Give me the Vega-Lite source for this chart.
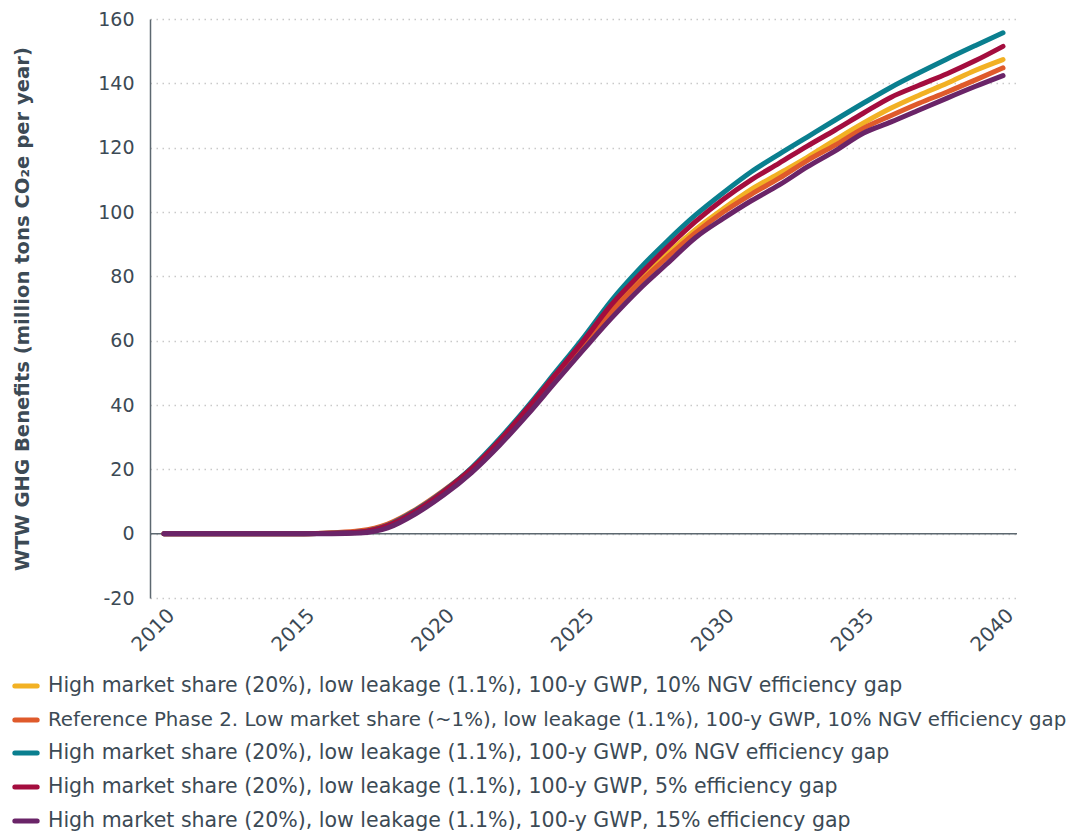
{
  "$schema": "https://vega.github.io/schema/vega-lite/v6.json",
  "width": 867,
  "height": 579,
  "autosize": "none",
  "padding": {"left": 150, "top": 19, "right": 51, "bottom": 235},
  "background": "white",
  "config": {
    "font": "DejaVu Sans",
    "view": {"stroke": null},
    "axis": {"labelColor": "#3c4a55", "titleColor": "#3c4a55", "labelFont": "DejaVu Sans", "titleFont": "DejaVu Sans"},
    "legend": {"labelFont": "DejaVu Sans"}
  },
  "datasets": {
    "names": [
      {"s": "A", "label": "High market share (20%), low leakage (1.1%), 100-y GWP, 10% NGV efficiency gap"},
      {"s": "B", "label": "Reference Phase 2. Low market share (~1%), low leakage (1.1%), 100-y GWP, 10% NGV efficiency gap"},
      {"s": "C", "label": "High market share (20%), low leakage (1.1%), 100-y GWP, 0% NGV efficiency gap"},
      {"s": "D", "label": "High market share (20%), low leakage (1.1%), 100-y GWP, 5% efficiency gap"},
      {"s": "E", "label": "High market share (20%), low leakage (1.1%), 100-y GWP, 15% efficiency gap"}
    ],
    "series": [
      {"year":2010,"s":"A","v":0},{"year":2010,"s":"B","v":0},{"year":2010,"s":"C","v":0},{"year":2010,"s":"D","v":0},{"year":2010,"s":"E","v":0},
      {"year":2011,"s":"A","v":0},{"year":2011,"s":"B","v":0},{"year":2011,"s":"C","v":0},{"year":2011,"s":"D","v":0},{"year":2011,"s":"E","v":0},
      {"year":2012,"s":"A","v":0},{"year":2012,"s":"B","v":0},{"year":2012,"s":"C","v":0},{"year":2012,"s":"D","v":0},{"year":2012,"s":"E","v":0},
      {"year":2013,"s":"A","v":0},{"year":2013,"s":"B","v":0},{"year":2013,"s":"C","v":0},{"year":2013,"s":"D","v":0},{"year":2013,"s":"E","v":0},
      {"year":2014,"s":"A","v":0},{"year":2014,"s":"B","v":0},{"year":2014,"s":"C","v":0},{"year":2014,"s":"D","v":0},{"year":2014,"s":"E","v":0},
      {"year":2015,"s":"A","v":0},{"year":2015,"s":"B","v":0},{"year":2015,"s":"C","v":0},{"year":2015,"s":"D","v":0},{"year":2015,"s":"E","v":0},
      {"year":2016,"s":"A","v":0.1},{"year":2016,"s":"B","v":0.3},{"year":2016,"s":"C","v":0.1},{"year":2016,"s":"D","v":0.1},{"year":2016,"s":"E","v":0},
      {"year":2017,"s":"A","v":0.5},{"year":2017,"s":"B","v":0.9},{"year":2017,"s":"C","v":0.5},{"year":2017,"s":"D","v":0.5},{"year":2017,"s":"E","v":0.2},
      {"year":2018,"s":"A","v":2.5},{"year":2018,"s":"B","v":3},{"year":2018,"s":"C","v":2.6},{"year":2018,"s":"D","v":2.5},{"year":2018,"s":"E","v":1.8},
      {"year":2019,"s":"A","v":7},{"year":2019,"s":"B","v":7.5},{"year":2019,"s":"C","v":7.2},{"year":2019,"s":"D","v":7},{"year":2019,"s":"E","v":6.2},
      {"year":2020,"s":"A","v":13},{"year":2020,"s":"B","v":13.4},{"year":2020,"s":"C","v":13.2},{"year":2020,"s":"D","v":13},{"year":2020,"s":"E","v":12},
      {"year":2021,"s":"A","v":20},{"year":2021,"s":"B","v":20.2},{"year":2021,"s":"C","v":20.5},{"year":2021,"s":"D","v":20.2},{"year":2021,"s":"E","v":19},
      {"year":2022,"s":"A","v":28.5},{"year":2022,"s":"B","v":28.6},{"year":2022,"s":"C","v":29.5},{"year":2022,"s":"D","v":29},{"year":2022,"s":"E","v":27.5},
      {"year":2023,"s":"A","v":38},{"year":2023,"s":"B","v":38},{"year":2023,"s":"C","v":39.5},{"year":2023,"s":"D","v":39},{"year":2023,"s":"E","v":37},
      {"year":2024,"s":"A","v":48.5},{"year":2024,"s":"B","v":48.5},{"year":2024,"s":"C","v":50.2},{"year":2024,"s":"D","v":49.5},{"year":2024,"s":"E","v":47.2},
      {"year":2025,"s":"A","v":59},{"year":2025,"s":"B","v":58.5},{"year":2025,"s":"C","v":61},{"year":2025,"s":"D","v":60},{"year":2025,"s":"E","v":57.2},
      {"year":2026,"s":"A","v":69.5},{"year":2026,"s":"B","v":69},{"year":2026,"s":"C","v":72.5},{"year":2026,"s":"D","v":71.2},{"year":2026,"s":"E","v":67},
      {"year":2027,"s":"A","v":78.5},{"year":2027,"s":"B","v":78},{"year":2027,"s":"C","v":82.3},{"year":2027,"s":"D","v":80.4},{"year":2027,"s":"E","v":76},
      {"year":2028,"s":"A","v":87},{"year":2028,"s":"B","v":86},{"year":2028,"s":"C","v":91},{"year":2028,"s":"D","v":89},{"year":2028,"s":"E","v":84},
      {"year":2029,"s":"A","v":94.5},{"year":2029,"s":"B","v":93.5},{"year":2029,"s":"C","v":99},{"year":2029,"s":"D","v":97},{"year":2029,"s":"E","v":92},
      {"year":2030,"s":"A","v":101},{"year":2030,"s":"B","v":100},{"year":2030,"s":"C","v":106},{"year":2030,"s":"D","v":104},{"year":2030,"s":"E","v":98},
      {"year":2031,"s":"A","v":107},{"year":2031,"s":"B","v":105.5},{"year":2031,"s":"C","v":112.5},{"year":2031,"s":"D","v":110},{"year":2031,"s":"E","v":103.5},
      {"year":2032,"s":"A","v":112},{"year":2032,"s":"B","v":110.5},{"year":2032,"s":"C","v":118},{"year":2032,"s":"D","v":115.2},{"year":2032,"s":"E","v":108.4},
      {"year":2033,"s":"A","v":117},{"year":2033,"s":"B","v":116},{"year":2033,"s":"C","v":123.3},{"year":2033,"s":"D","v":120.5},{"year":2033,"s":"E","v":114},
      {"year":2034,"s":"A","v":122.4},{"year":2034,"s":"B","v":120.8},{"year":2034,"s":"C","v":128.6},{"year":2034,"s":"D","v":125.5},{"year":2034,"s":"E","v":119},
      {"year":2035,"s":"A","v":127.6},{"year":2035,"s":"B","v":126},{"year":2035,"s":"C","v":133.8},{"year":2035,"s":"D","v":130.7},{"year":2035,"s":"E","v":124.5},
      {"year":2036,"s":"A","v":132.3},{"year":2036,"s":"B","v":130},{"year":2036,"s":"C","v":138.8},{"year":2036,"s":"D","v":135.7},{"year":2036,"s":"E","v":128},
      {"year":2037,"s":"A","v":136.3},{"year":2037,"s":"B","v":133.8},{"year":2037,"s":"C","v":143.3},{"year":2037,"s":"D","v":139.4},{"year":2037,"s":"E","v":131.7},
      {"year":2038,"s":"A","v":140},{"year":2038,"s":"B","v":137.3},{"year":2038,"s":"C","v":147.6},{"year":2038,"s":"D","v":143},{"year":2038,"s":"E","v":135.4},
      {"year":2039,"s":"A","v":144},{"year":2039,"s":"B","v":141},{"year":2039,"s":"C","v":151.7},{"year":2039,"s":"D","v":147},{"year":2039,"s":"E","v":139},
      {"year":2040,"s":"A","v":147.4},{"year":2040,"s":"B","v":144.8},{"year":2040,"s":"C","v":155.7},{"year":2040,"s":"D","v":151.5},{"year":2040,"s":"E","v":142.4}
    ]
  },
  "layer": [
    {
      "data": {"values": [{"z": 0}]},
      "mark": {"type": "rule", "color": "#5d6870", "strokeWidth": 1.5},
      "encoding": {"y": {"field": "z", "type": "quantitative", "scale": {"domain": [-20, 160]}}}
    },
    {
      "data": {"name": "series"},
      "transform": [
        {"lookup": "s", "from": {"data": {"name": "names"}, "key": "s", "fields": ["label"]}}
      ],
      "mark": {"type": "line", "strokeWidth": 5, "strokeCap": "round", "strokeJoin": "round", "interpolate": "monotone"},
      "encoding": {
        "x": {
          "field": "year", "type": "quantitative",
          "scale": {"domain": [2009.5, 2040.5], "nice": false, "zero": false},
          "axis": {"values": [2010, 2015, 2020, 2025, 2030, 2035, 2040], "format": "d", "labelAngle": -45, "labelFontSize": 20, "labelPadding": 7, "ticks": false, "domain": false, "grid": false, "title": null}
        },
        "y": {
          "field": "v", "type": "quantitative",
          "scale": {"domain": [-20, 160], "nice": false},
          "axis": {
            "values": [-20, 0, 20, 40, 60, 80, 100, 120, 140, 160],
            "labelExpr": "'' + datum.value",
            "labelFontSize": 19, "labelPadding": 16, "ticks": false,
            "domain": true, "domainColor": "#5d6870", "domainWidth": 1.5,
            "grid": true, "gridColor": "#c9c9c9", "gridDash": [1.5, 4.5], "gridWidth": 1.5,
            "title": "WTW GHG Benefits (million tons CO₂e per year)",
            "titleFontSize": 19.6, "titleFontWeight": "bold", "titlePadding": 65
          }
        },
        "color": {
          "field": "label", "type": "nominal",
          "scale": {
            "domain": [
              "High market share (20%), low leakage (1.1%), 100-y GWP, 10% NGV efficiency gap",
              "Reference Phase 2. Low market share (~1%), low leakage (1.1%), 100-y GWP, 10% NGV efficiency gap",
              "High market share (20%), low leakage (1.1%), 100-y GWP, 0% NGV efficiency gap",
              "High market share (20%), low leakage (1.1%), 100-y GWP, 5% efficiency gap",
              "High market share (20%), low leakage (1.1%), 100-y GWP, 15% efficiency gap"
            ],
            "range": ["#f2b124", "#df5a2b", "#0a7f8f", "#a40d3e", "#6a2468"]
          },
          "legend": {
            "orient": "none", "legendX": -138, "legendY": 653, "title": null,
            "symbolType": "stroke", "symbolStrokeWidth": 5, "symbolSize": 500,
            "labelFontSize": 20.5, "labelColor": "#3c4a55", "labelLimit": 0, "labelOffset": 8,
            "rowPadding": 9,
            "encode": {
              "symbols": {"update": {"strokeCap": {"value": "round"}}},
              "labels": {"update": {"fontSize": {"signal": "datum.index === 1 ? 19.8 : 20.5"}}}
            }
          }
        },
        "order": {"field": "s"}
      }
    }
  ]
}
